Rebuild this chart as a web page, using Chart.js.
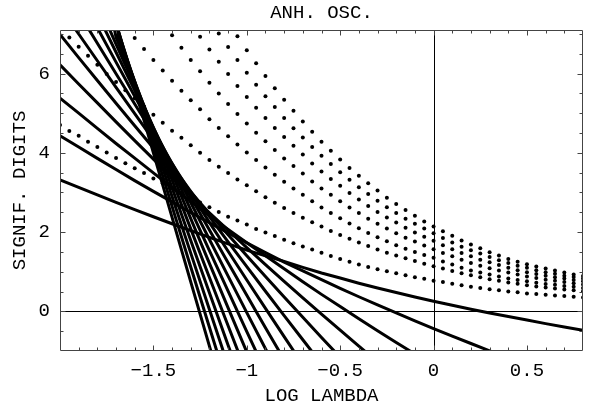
<!DOCTYPE html>
<html>
<head>
<meta charset="utf-8">
<script src="https://cdn.jsdelivr.net/npm/chart.js@4/dist/chart.umd.min.js"></script>
<style>
  html, body { margin: 0; padding: 0; background: #fff; }
  canvas { display: block; }
</style>
</head>
<body>
<canvas id="c" width="592" height="409"></canvas>
<script>
// ---------------- data ----------------
const chartTitle = 'ANH. OSC.';
const xAxisTitle = 'LOG LAMBDA';
const yAxisTitle = 'SIGNIF. DIGITS';

// x positions of the dotted curves (LOG LAMBDA)
const dotX = [-2.00,-1.95,-1.90,-1.85,-1.80,-1.75,-1.70,-1.65,-1.60,-1.55,-1.50,-1.45,-1.40,-1.35,-1.30,-1.25,-1.20,-1.15,-1.10,-1.05,-1.00,-0.95,-0.90,-0.85,-0.80,-0.75,-0.70,-0.65,-0.60,-0.55,-0.50,-0.45,-0.40,-0.35,-0.30,-0.25,-0.20,-0.15,-0.10,-0.05,0.00,0.05,0.10,0.15,0.20,0.25,0.30,0.35,0.40,0.45,0.50,0.55,0.60,0.65,0.70,0.75,0.80];

// dotted curves (significant digits)
const dotsA = [4.70,4.55,4.43,4.28,4.15,4.01,3.87,3.74,3.61,3.49,3.35,3.23,3.11,2.99,2.87,2.75,2.63,2.51,2.39,2.29,2.19,2.08,1.99,1.90,1.81,1.72,1.64,1.56,1.48,1.40,1.32,1.25,1.18,1.12,1.06,1.01,0.96,0.91,0.86,0.82,0.77,0.74,0.70,0.66,0.62,0.59,0.56,0.53,0.50,0.48,0.45,0.44,0.42,0.40,0.39,0.37,0.35];
const dotsB = [7.15,6.91,6.68,6.45,6.22,5.99,5.79,5.58,5.38,5.17,4.96,4.76,4.56,4.38,4.19,4.00,3.82,3.65,3.49,3.33,3.18,3.03,2.88,2.74,2.61,2.48,2.36,2.25,2.14,2.03,1.93,1.83,1.74,1.65,1.56,1.48,1.41,1.34,1.27,1.20,1.14,1.08,1.02,0.96,0.91,0.86,0.81,0.77,0.73,0.70,0.66,0.63,0.60,0.58,0.55,0.53,0.51];
const dotsC = [null,null,null,null,null,null,null,7.18,6.90,6.62,6.34,6.08,5.82,5.57,5.33,5.10,4.85,4.63,4.42,4.21,4.01,3.82,3.63,3.45,3.27,3.10,2.94,2.78,2.62,2.48,2.35,2.22,2.10,1.98,1.87,1.77,1.67,1.58,1.50,1.42,1.35,1.26,1.18,1.10,1.03,0.98,0.93,0.88,0.83,0.79,0.76,0.72,0.69,0.67,0.64,0.62,0.59];
const dotsD = [null,null,null,null,null,null,null,null,null,null,null,null,6.97,6.65,6.34,6.06,5.77,5.50,5.23,4.98,4.74,4.51,4.29,4.07,3.86,3.67,3.48,3.28,3.10,2.94,2.78,2.62,2.48,2.34,2.21,2.09,1.97,1.86,1.76,1.66,1.57,1.47,1.39,1.30,1.22,1.15,1.09,1.03,0.98,0.93,0.88,0.84,0.80,0.77,0.74,0.71,0.68];
const dotsE = [null,null,null,null,null,null,null,null,null,null,null,null,null,null,null,6.93,6.61,6.30,5.99,5.69,5.41,5.14,4.88,4.63,4.40,4.18,3.96,3.73,3.53,3.34,3.17,2.99,2.82,2.66,2.51,2.37,2.24,2.11,1.99,1.88,1.78,1.67,1.57,1.47,1.39,1.30,1.24,1.17,1.10,1.04,0.99,0.94,0.90,0.86,0.83,0.79,0.76];
const dotsF = [null,null,null,null,null,null,null,null,null,null,null,null,null,null,null,null,null,7.01,6.67,6.34,6.02,5.72,5.43,5.16,4.88,4.62,4.39,4.15,3.93,3.72,3.51,3.32,3.13,2.96,2.79,2.63,2.48,2.34,2.21,2.09,1.97,1.85,1.74,1.63,1.54,1.46,1.37,1.29,1.22,1.15,1.10,1.04,0.99,0.95,0.90,0.87,0.83];
const dotsG = [null,null,null,null,null,null,null,null,null,null,null,null,null,null,null,null,null,null,null,6.94,6.59,6.26,5.94,5.63,5.34,5.06,4.79,4.53,4.28,4.05,3.83,3.62,3.42,3.23,3.05,2.87,2.71,2.56,2.41,2.27,2.14,2.02,1.91,1.79,1.69,1.59,1.49,1.41,1.32,1.25,1.19,1.13,1.08,1.03,0.98,0.93,0.89];

// x positions of the partial-sum lines
const lineX = [-2.0,-1.9,-1.8,-1.7,-1.6,-1.5,-1.4,-1.3,-1.2,-1.1,-1.0,-0.9,-0.8,-0.7,-0.6,-0.5,-0.4,-0.3,-0.2,-0.1,0.0,0.1,0.2,0.3,0.4,0.5,0.6,0.7,0.8];
const _ = null;
// digits of partial sums of order 1..16
const order1  = [3.318,3.128,2.939,2.752,2.569,2.388,2.211,2.038,1.869,1.705,1.547,1.401,1.260,1.110,0.967,0.842,0.711,0.589,0.476,0.363,0.256,0.154,0.055,-0.040,-0.130,-0.220,-0.309,-0.394,-0.476];
const order2  = [4.431,4.146,3.861,3.579,3.299,3.027,2.763,2.494,2.236,1.981,1.731,1.481,1.241,1.021,0.799,0.579,0.369,0.162,-0.041,-0.239,-0.433,-0.623,-0.811,-0.995,-1.175,_,_,_,_];
const order3  = [5.381,5.001,4.616,4.237,3.867,3.494,3.127,2.770,2.415,2.067,1.730,1.402,1.077,0.747,0.429,0.120,-0.187,-0.488,-0.783,-1.076,-1.365,_,_,_,_,_,_,_,_];
const order4  = [6.220,5.739,5.260,4.782,4.309,3.842,3.382,2.932,2.488,2.049,1.610,1.178,0.755,0.342,-0.070,-0.475,-0.877,-1.274,_,_,_,_,_,_,_,_,_,_,_];
const order5  = [6.987,6.404,5.826,5.252,4.684,4.121,3.564,3.013,2.469,1.932,1.401,0.879,0.361,-0.151,-0.658,-1.159,_,_,_,_,_,_,_,_,_,_,_,_,_];
const order6  = [7.679,6.999,6.324,5.653,4.988,4.328,3.675,3.028,2.388,1.754,1.127,0.508,-0.107,-0.717,-1.322,_,_,_,_,_,_,_,_,_,_,_,_,_,_];
const order7  = [_,7.537,6.764,5.996,5.234,4.477,3.727,2.983,2.246,1.516,0.792,0.075,-0.637,-1.345,_,_,_,_,_,_,_,_,_,_,_,_,_,_,_];
const order8  = [_,8.026,7.155,6.290,5.429,4.576,3.729,2.888,2.053,1.226,0.404,-0.411,-1.221,_,_,_,_,_,_,_,_,_,_,_,_,_,_,_,_];
const order9  = [_,8.470,7.501,6.538,5.580,4.629,3.684,2.746,1.814,0.888,-0.031,-0.944,-1.782,_,_,_,_,_,_,_,_,_,_,_,_,_,_,_,_];
const order10 = [_,_,7.806,6.745,5.689,4.640,3.598,2.562,1.532,0.509,-0.509,-1.520,_,_,_,_,_,_,_,_,_,_,_,_,_,_,_,_,_];
const order11 = [_,_,9.273,6.914,5.761,4.614,3.473,2.340,1.212,0.090,-1.026,_,_,_,_,_,_,_,_,_,_,_,_,_,_,_,_,_,_];
const order12 = [_,_,9.606,7.048,5.797,4.552,3.314,2.082,0.856,-0.364,-1.579,_,_,_,_,_,_,_,_,_,_,_,_,_,_,_,_,_,_];
const order13 = [_,_,_,7.151,5.801,4.458,3.122,1.791,0.467,-0.852,-2.150,_,_,_,_,_,_,_,_,_,_,_,_,_,_,_,_,_,_];
const order14 = [_,_,_,7.223,5.775,4.334,2.899,1.470,0.047,-1.370,_,_,_,_,_,_,_,_,_,_,_,_,_,_,_,_,_,_,_];
const order15 = [_,_,_,7.267,5.721,4.181,2.648,1.120,-0.401,-1.918,_,_,_,_,_,_,_,_,_,_,_,_,_,_,_,_,_,_,_];
const order16 = [_,_,_,7.285,5.640,4.002,2.370,0.744,-0.877,-2.492,_,_,_,_,_,_,_,_,_,_,_,_,_,_,_,_,_,_,_];

const xTickLabels = [-1.5, -1, -0.5, 0, 0.5];
const yTickLabels = [0, 2, 4, 6];

// ---------------- chart ----------------
const FONT = "'Liberation Mono', 'DejaVu Sans Mono', monospace";
const lineSeries = [order1,order2,order3,order4,order5,order6,order7,order8,order9,order10,order11,order12,order13,order14,order15,order16];
const dotSeries = [dotsA,dotsB,dotsC,dotsD,dotsE,dotsF,dotsG];

function pts(xs, ys) {
  const out = [];
  xs.forEach((x, i) => { if (ys[i] !== null && ys[i] !== undefined) out.push({x: x, y: ys[i]}); });
  return out;
}

const datasets = [];
lineSeries.forEach((ys, k) => {
  datasets.push({
    label: 'order ' + (k + 1),
    data: pts(lineX, ys),
    showLine: true,
    borderColor: '#000',
    borderWidth: 3,
    pointRadius: 0,
    tension: 0,
    clip: 0,
    order: 0
  });
});
dotSeries.forEach((ys, k) => {
  datasets.push({
    label: 'dots ' + k,
    data: pts(dotX, ys),
    showLine: false,
    pointRadius: 2,
    pointBackgroundColor: '#000',
    pointBorderWidth: 0,
    clip: 0,
    order: 1
  });
});

function fmt(v) {
  if (v === 0) return '0';
  return (v < 0 ? '\u2212' : '') + String(Math.abs(v));
}

const frameTicks = {
  id: 'frameTicks',
  beforeDatasetsDraw(chart) {
    const {ctx, chartArea: a, scales: {x, y}} = chart;
    ctx.save();
    ctx.strokeStyle = '#000';
    ctx.lineWidth = 1;
    const x0 = Math.round(x.getPixelForValue(0)) + 0.5;
    const y0 = Math.round(y.getPixelForValue(0)) + 0.5;
    ctx.beginPath();
    ctx.moveTo(x0, a.top); ctx.lineTo(x0, a.bottom);
    ctx.moveTo(a.left, y0); ctx.lineTo(a.right, y0);
    ctx.stroke();
    ctx.restore();
  },
  afterDatasetsDraw(chart) {
    const {ctx, chartArea: a, scales: {x, y}} = chart;
    ctx.save();
    ctx.strokeStyle = '#444';
    ctx.lineWidth = 1;
    const L = Math.round(a.left) + 0.5, R = Math.round(a.right) - 0.5;
    const T = Math.round(a.top) + 0.5, B = Math.round(a.bottom) - 0.5;
    ctx.beginPath();
    ctx.rect(L, T, R - L, B - T);
    for (let i = -19; i <= 7; i++) {
      const v = i / 10;
      const len = (i % 5 === 0) ? 5 : 3;
      const px = Math.round(x.getPixelForValue(v)) + 0.5;
      ctx.moveTo(px, B); ctx.lineTo(px, B - len);
      ctx.moveTo(px, T); ctx.lineTo(px, T + len);
    }
    for (let i = -1; i <= 14; i++) {
      const v = i / 2;
      const len = (i % 4 === 0) ? 5 : 3;
      const py = Math.round(y.getPixelForValue(v)) + 0.5;
      ctx.moveTo(L, py); ctx.lineTo(L + len, py);
      ctx.moveTo(R, py); ctx.lineTo(R - len, py);
    }
    ctx.stroke();
    // title centred over the plot frame
    ctx.fillStyle = '#000';
    ctx.font = '19px ' + FONT;
    ctx.textAlign = 'center';
    ctx.textBaseline = 'middle';
    ctx.fillText(chartTitle, (a.left + a.right) / 2, 13);
    ctx.restore();
  }
};

new Chart(document.getElementById('c'), {
  type: 'scatter',
  data: { datasets },
  options: {
    responsive: false,
    animation: false,
    devicePixelRatio: 1,
    layout: { padding: { left: 0, right: 9, top: 30, bottom: 0 } },
    plugins: {
      legend: { display: false },
      tooltip: { enabled: false },
      title: { display: false }
    },
    scales: {
      x: {
        type: 'linear',
        min: -2, max: 0.8,
        grid: { display: false, drawTicks: false },
        border: { display: false },
        afterBuildTicks: s => { s.ticks = xTickLabels.map(v => ({ value: v })); },
        afterFit: s => { s.height = 58; },
        ticks: {
          color: '#000', font: { family: FONT, size: 19 },
          padding: 9, maxRotation: 0, autoSkip: false,
          callback: v => fmt(v)
        },
        title: {
          display: true, text: xAxisTitle, color: '#000',
          font: { family: FONT, size: 19 },
          padding: { top: 0, bottom: 2 }
        }
      },
      y: {
        type: 'linear',
        min: -1, max: 7.1,
        grid: { display: false, drawTicks: false },
        border: { display: false },
        afterBuildTicks: s => { s.ticks = yTickLabels.map(v => ({ value: v })); },
        afterFit: s => { s.width = 60; },
        ticks: {
          color: '#000', font: { family: FONT, size: 19 },
          padding: 10, autoSkip: false,
          callback: v => fmt(v)
        },
        title: {
          display: true, text: yAxisTitle, color: '#000',
          font: { family: FONT, size: 19 },
          padding: { top: 9, bottom: 0 }
        }
      }
    }
  },
  plugins: [frameTicks]
});
</script>
</body>
</html>
